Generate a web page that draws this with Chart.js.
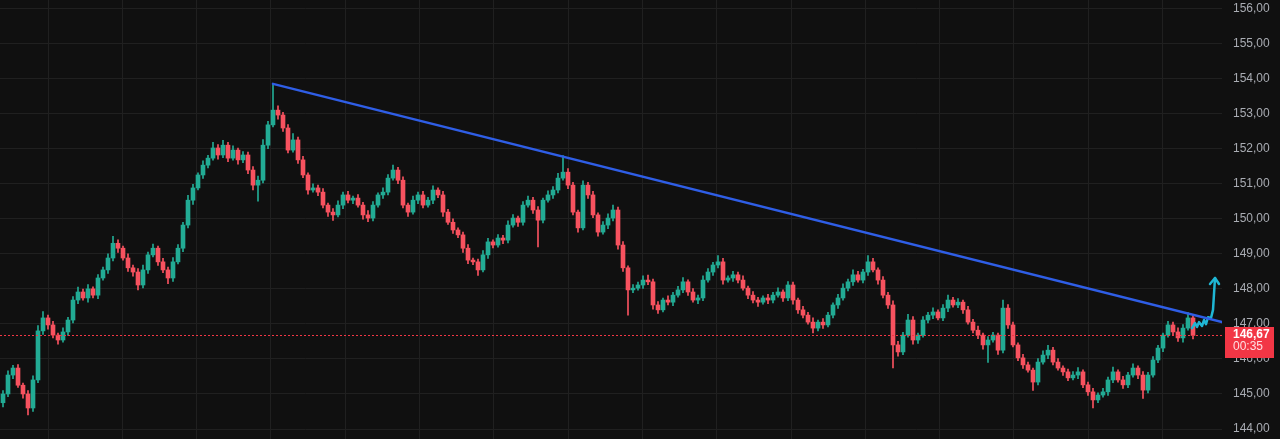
<!DOCTYPE html>
<html><head><meta charset="utf-8">
<script src="https://cdn.jsdelivr.net/npm/chart.js@4"></script>
<style>html,body{margin:0;padding:0;background:#101010;}#wrap{width:1280px;height:439px;position:relative;}</style>
</head><body><div id="wrap"><canvas id="c"></canvas></div>
<script>
// ---- data ----
const closes = [
145.00,145.54,145.74,145.25,145.00,144.60,145.40,146.80,147.17,146.97,
146.68,146.54,146.77,147.11,147.68,147.91,147.74,148.00,147.82,148.31,
148.54,148.88,149.30,149.16,148.88,148.60,148.48,148.11,148.54,148.97,
149.16,148.77,148.54,148.31,148.77,149.16,149.82,150.53,150.88,151.25,
151.53,151.73,152.02,151.82,152.10,151.73,151.96,151.68,151.82,151.39,
150.96,151.10,152.10,152.68,153.10,152.96,152.59,151.96,152.25,151.68,
151.25,150.82,150.88,150.76,150.39,150.19,150.11,150.39,150.68,150.53,
150.59,150.39,150.11,150.02,150.39,150.68,150.76,151.16,151.39,151.10,
150.39,150.19,150.53,150.68,150.39,150.53,150.82,150.68,150.19,149.90,
149.68,149.54,149.16,148.82,148.77,148.54,148.97,149.34,149.25,149.45,
149.39,149.82,150.02,149.90,150.39,150.53,150.25,149.96,150.53,150.68,
150.82,151.16,151.33,150.96,150.19,149.74,150.96,150.68,150.11,149.62,
149.82,150.02,150.25,149.25,148.60,147.97,148.02,148.11,148.25,148.20,
147.54,147.40,147.68,147.62,147.82,147.97,148.20,147.91,147.68,147.74,
148.25,148.48,148.68,148.77,148.25,148.31,148.40,148.25,148.02,147.82,
147.68,147.62,147.74,147.68,147.82,147.91,147.74,148.11,147.68,147.40,
147.25,147.05,146.88,147.05,146.97,147.25,147.54,147.74,148.02,148.20,
148.40,148.25,148.48,148.77,148.54,148.25,147.82,147.54,146.40,146.20,
146.68,147.11,146.54,146.68,147.11,147.25,147.34,147.17,147.45,147.68,
147.54,147.62,147.40,147.05,146.82,146.68,146.40,146.54,146.68,146.25,
147.45,146.97,146.40,146.03,145.83,145.68,145.34,145.91,146.11,146.25,
145.91,145.74,145.63,145.46,145.54,145.63,145.26,145.06,144.83,144.97,
145.06,145.40,145.63,145.40,145.26,145.54,145.74,145.54,145.11,145.54,
145.97,146.31,146.68,146.97,146.77,146.60,146.88,147.17,146.67];
const firstOpen = 144.75;
const wickUp = [
0.10,0.12,0.08,0.10,0.06,0.10,0.12,0.15,0.18,0.08,
0.10,0.06,0.12,0.08,0.10,0.14,0.08,0.12,0.06,0.10,
0.08,0.12,0.20,0.10,0.06,0.12,0.08,0.10,0.14,0.08,
0.12,0.06,0.10,0.08,0.12,0.10,0.08,0.14,0.10,0.06,
0.12,0.08,0.16,0.10,0.14,0.08,0.12,0.06,0.10,0.08,
0.10,0.12,0.16,0.10,0.75,0.12,0.08,0.10,0.18,0.08,
0.10,0.06,0.12,0.08,0.10,0.06,0.10,0.12,0.08,0.10,
0.06,0.10,0.08,0.12,0.10,0.06,0.12,0.10,0.14,0.08,
0.10,0.06,0.12,0.08,0.10,0.08,0.12,0.06,0.10,0.08,
0.10,0.06,0.08,0.10,0.06,0.08,0.12,0.10,0.06,0.10,
0.08,0.12,0.10,0.06,0.10,0.12,0.08,0.10,0.06,0.12,
0.10,0.14,0.47,0.10,0.08,0.06,0.12,0.08,0.10,0.06,
0.10,0.12,0.14,0.08,0.10,0.06,0.10,0.08,0.12,0.14,
0.08,0.10,0.06,0.12,0.08,0.10,0.12,0.06,0.10,0.08,
0.12,0.10,0.08,0.18,0.10,0.06,0.10,0.08,0.12,0.06,
0.10,0.08,0.06,0.10,0.08,0.12,0.06,0.10,0.08,0.06,
0.10,0.08,0.12,0.06,0.10,0.08,0.06,0.10,0.12,0.08,
0.14,0.10,0.08,0.18,0.10,0.06,0.10,0.08,0.12,0.10,
0.08,0.16,0.10,0.06,0.10,0.08,0.12,0.06,0.10,0.14,
0.08,0.10,0.06,0.10,0.08,0.12,0.06,0.10,0.08,0.06,
0.23,0.10,0.08,0.06,0.10,0.08,0.06,0.10,0.12,0.14,
0.08,0.10,0.06,0.08,0.10,0.12,0.06,0.08,0.10,0.06,
0.10,0.08,0.14,0.06,0.10,0.08,0.12,0.06,0.10,0.08,
0.10,0.08,0.06,0.10,0.08,0.12,0.10,0.15,0.08];
const wickDown = [
0.12,0.08,0.10,0.06,0.12,0.20,0.10,0.08,0.10,0.12,
0.08,0.12,0.06,0.10,0.08,0.10,0.06,0.12,0.08,0.10,
0.06,0.10,0.08,0.12,0.06,0.10,0.12,0.14,0.08,0.10,
0.06,0.10,0.08,0.16,0.10,0.06,0.10,0.08,0.12,0.06,
0.10,0.08,0.06,0.12,0.08,0.10,0.06,0.12,0.08,0.10,
0.14,0.46,0.08,0.10,0.06,0.12,0.10,0.08,0.06,0.10,
0.08,0.12,0.06,0.10,0.08,0.12,0.16,0.06,0.10,0.08,
0.10,0.06,0.12,0.10,0.08,0.06,0.10,0.08,0.06,0.10,
0.08,0.12,0.06,0.10,0.08,0.06,0.10,0.08,0.12,0.06,
0.10,0.08,0.12,0.10,0.08,0.16,0.06,0.10,0.08,0.06,
0.10,0.08,0.06,0.12,0.08,0.06,0.10,0.76,0.08,0.06,
0.10,0.08,0.06,0.10,0.08,0.12,0.06,0.10,0.08,0.12,
0.06,0.10,0.08,0.12,0.10,0.72,0.08,0.06,0.10,0.08,
0.12,0.10,0.06,0.08,0.10,0.06,0.08,0.10,0.06,0.10,
0.08,0.06,0.10,0.08,0.12,0.06,0.10,0.08,0.06,0.10,
0.08,0.12,0.06,0.10,0.08,0.06,0.10,0.08,0.12,0.10,
0.08,0.06,0.14,0.08,0.10,0.06,0.08,0.10,0.06,0.08,
0.10,0.06,0.08,0.10,0.06,0.12,0.08,0.10,0.66,0.12,
0.08,0.06,0.12,0.10,0.06,0.08,0.10,0.06,0.08,0.10,
0.06,0.08,0.10,0.06,0.08,0.10,0.12,0.50,0.06,0.12,
0.08,0.10,0.06,0.08,0.10,0.06,0.24,0.08,0.06,0.10,
0.08,0.06,0.10,0.08,0.06,0.10,0.08,0.10,0.23,0.08,
0.06,0.10,0.08,0.06,0.10,0.08,0.06,0.10,0.24,0.08,
0.06,0.08,0.10,0.06,0.08,0.10,0.12,0.06,0.10];
const priceTicks = [144,145,146,147,148,149,150,151,152,153,154,155,156];
const trendX = [54, 243.8];
const trendY = [153.85, 147.05];
const arrowX = [237.8,238.4,238.8,239.2,239.8,240.2,240.6,241.0,241.6,242.0,242.4];
const arrowY = [146.88,147.02,146.91,147.05,146.94,147.11,146.99,147.19,147.17,147.40,148.31];
const headX = [241.4,242.4,243.2];
const headY = [148.14,148.31,148.14];
const lastPrice = 146.67;
const lastPriceText = '146,67';
const countdownText = '00:35';

// ---- build ----
const UP='#22ab94', DOWN='#f7525f';
const opens = closes.map((c,i)=> i===0 ? firstOpen : closes[i-1]);
const bodies = closes.map((c,i)=>({x:i, y:[opens[i], c]}));
const wicks = closes.map((c,i)=>({x:i, y:[Math.min(opens[i],c)-(wickDown[i]??0.08), Math.max(opens[i],c)+(wickUp[i]??0.08)]}));
const colorOf = ctx => { const i=ctx.dataIndex; return closes[i]>=opens[i]?UP:DOWN; };
const toXY = (xs,ys)=>xs.map((x,i)=>({x, y:ys[i]}));
const fmt = v => v.toFixed(2).replace('.', ',');

const bg = { id:'bg', beforeDraw(ch){ const c=ch.ctx; c.save(); c.fillStyle='#101010'; c.fillRect(0,0,ch.width,ch.height); c.restore(); } };
const lastLine = { id:'lastLine', afterDatasetsDraw(ch){
  const c=ch.ctx, y=Math.round(ch.scales.y.getPixelForValue(lastPrice))+0.5, a=ch.chartArea;
  c.save(); c.strokeStyle='#f23645'; c.lineWidth=1; c.setLineDash([2,2]);
  c.beginPath(); c.moveTo(a.left,y); c.lineTo(a.right,y); c.stroke(); c.restore(); } };
const lastBox = { id:'lastBox', afterDraw(ch){
  const c=ch.ctx, y=ch.scales.y.getPixelForValue(lastPrice), a=ch.chartArea;
  c.save(); c.fillStyle='#f23645';
  c.fillRect(a.right+3, Math.round(y)-8, 49, 31);
  c.fillStyle='#ffffff'; c.textBaseline='middle'; c.textAlign='left';
  c.font='bold 12px "Liberation Sans", Arial, sans-serif';
  c.fillText(lastPriceText, a.right+11, Math.round(y)-0.5);
  c.fillStyle='rgba(255,235,238,0.92)';
  c.font='12px "Liberation Sans", Arial, sans-serif';
  c.fillText(countdownText, a.right+11, Math.round(y)+12);
  c.restore(); } };

new Chart(document.getElementById('c'), {
  type:'bar',
  data:{ datasets:[
    { type:'line', data:toXY(trendX,trendY), borderColor:'#2f5ee6', borderWidth:2.5, pointRadius:0, order:0, borderCapStyle:'round' },
    { type:'line', data:toXY(arrowX,arrowY), borderColor:'#1fb6d4', borderWidth:2.5, pointRadius:0, order:0, borderJoinStyle:'round', borderCapStyle:'round' },
    { type:'line', data:toXY(headX,headY), borderColor:'#1fb6d4', borderWidth:2.5, pointRadius:0, order:0, borderJoinStyle:'round', borderCapStyle:'round' },
    { data:bodies, backgroundColor:colorOf, barThickness:4, minBarLength:1, grouped:false, order:1, borderWidth:0 },
    { data:wicks, backgroundColor:colorOf, barThickness:1, grouped:false, order:2, borderWidth:0 }
  ]},
  options:{
    responsive:true, maintainAspectRatio:false, animation:false, devicePixelRatio:1,
    layout:{padding:0},
    plugins:{ legend:{display:false}, tooltip:{enabled:false} },
    scales:{
      x:{ type:'linear', min:-0.6, max:243.8, offset:false,
          grid:{ color:'#202020', drawTicks:false, lineWidth:1, offset:false }, border:{display:false},
          ticks:{ display:false },
          afterBuildTicks(s){ const t=[]; for(let v=9; v<243.8; v+=14.86) t.push({value:v}); s.ticks=t; },
          afterFit(s){ s.height=0; s.paddingLeft=0; s.paddingRight=0; s.paddingTop=0; s.paddingBottom=0; } },
      y:{ position:'right', min:143.715, max:156.243,
          grid:{ color:'#202020', drawTicks:false, lineWidth:1 }, border:{display:false},
          afterBuildTicks(s){ s.ticks=priceTicks.map(v=>({value:v})); },
          ticks:{ padding:11, color:'#a9acb3', font:{ family:'"Liberation Sans", Arial, sans-serif', size:12 }, callback:v=>fmt(v) },
          afterFit(s){ s.width=58; s.paddingTop=0; s.paddingBottom=0; s.paddingLeft=0; s.paddingRight=0; } }
    }
  },
  plugins:[bg,lastLine,lastBox]
});
</script></body></html>
